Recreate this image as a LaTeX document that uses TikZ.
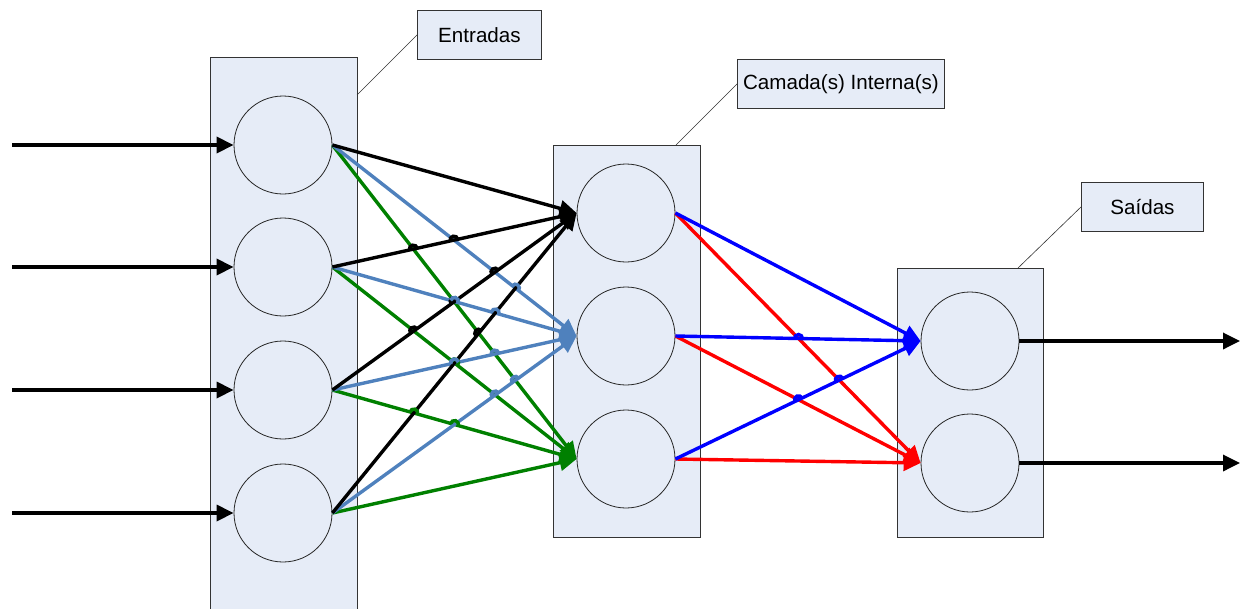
\documentclass[tikz,border=0pt]{standalone}
\usepackage{fontspec}
\setmainfont{Liberation Sans}
\usetikzlibrary{arrows.meta,calc}
\definecolor{layerfill}{RGB}{230,236,247}
\definecolor{steel}{RGB}{79,129,189}
\definecolor{leaf}{RGB}{0,128,0}
% small jump arc where the line #1--#2 passes over the line #3--#4
\newcommand\linehop[5]{%
  \draw[#5,line width=3.4pt] let \p1=(#1), \p2=(#2), \p3=(#3), \p4=(#4),
    \n1={scalar(((\x3-\x1)/100*(\y4-\y3)/100-(\y3-\y1)/100*(\x4-\x3)/100)/((\x2-\x1)/100*(\y4-\y3)/100-(\y2-\y1)/100*(\x4-\x3)/100))},
    \n2={scalar(atan2(\y2-\y1,\x2-\x1))}
    in ($(\p1)!\n1!(\p2)$) ++(\n2+180:4pt) arc[start angle=\n2+180, end angle=\n2, radius=4pt];%
}
\begin{document}
\begin{tikzpicture}[x=1pt,y=-1pt,
  layer/.style={draw=black!80,line width=0.9pt,fill=layerfill,inner sep=0,anchor=north west},
  neuron/.style={circle,draw=black!85,line width=0.8pt,minimum size=98pt,inner sep=0},
  tag/.style={draw=black!80,line width=0.9pt,fill=layerfill,inner sep=0,anchor=north west,
    minimum height=49pt,font=\fontsize{20.6}{24}\selectfont},
  link/.style={line width=3.4pt,-{Triangle[length=17pt,width=16pt]}},
  callout/.style={line width=0.6pt,draw=black!80}]
\useasboundingbox (0,0) rectangle (1246,608);
\begin{scope}
\clip (0,0) rectangle (1246,608);
% layer frames
\node[layer,minimum width=147pt,minimum height=570pt] (L1) at (210,57) {};
\node[layer,minimum width=147pt,minimum height=392pt] (L2) at (553,145) {};
\node[layer,minimum width=146pt,minimum height=269pt] (L3) at (897,268) {};
% captions
\node[tag,minimum width=124pt] (T1) at (417,10) {Entradas};
\node[tag,minimum width=207pt] (T2) at (737,59) {Camada(s) Interna(s)};
\node[tag,minimum width=122pt] (T3) at (1081,182) {Saídas};
\coordinate (c1) at (357,95);
\coordinate (c2) at (676,145);
\coordinate (c3) at (1018,268);
\draw[callout] (c1) -- (T1.west);
\draw[callout] (c2) -- (T2.west);
\draw[callout] (c3) -- (T3.west);
% neurons
\node[neuron] (i1) at (283,145) {};
\node[neuron] (i2) at (283,267) {};
\node[neuron] (i3) at (283,390) {};
\node[neuron] (i4) at (283,513) {};
\node[neuron] (h1) at (626,213) {};
\node[neuron] (h2) at (626,336) {};
\node[neuron] (h3) at (626,459) {};
\node[neuron] (o1) at (970,341) {};
\node[neuron] (o2) at (970,463) {};
% inputs and outputs
\foreach \k/\y in {1/145,2/267,3/390,4/513}{
  \coordinate (in\k) at (12,\y);
  \draw[link] (in\k) -- (i\k.west);
}
\coordinate (out1) at (1240,341);
\coordinate (out2) at (1240,463);
\draw[link] (o1.east) -- (out1);
\draw[link] (o2.east) -- (out2);
% input -> hidden
\foreach \k in {1,2,3,4}{
  \draw[link,leaf] (i\k.east) -- (h3.west);
}
\foreach \k in {1,2,3,4}{
  \draw[link,steel] (i\k.east) -- (h2.west);
}
\foreach \k in {1,2,3,4}{
  \draw[link,black] (i\k.east) -- (h1.west);
}
% hidden -> output
\foreach \k in {1,2,3}{
  \draw[link,red] (h\k.east) -- (o2.west);
}
\foreach \k in {1,2,3}{
  \draw[link,blue] (h\k.east) -- (o1.west);
}
% line jumps: the flatter line hops over the steeper one
\linehop{i2.east}{h1.west}{i1.east}{h2.west}{black}
\linehop{i2.east}{h1.west}{i1.east}{h3.west}{black}
\linehop{i2.east}{h2.west}{i1.east}{h3.west}{steel}
\linehop{i3.east}{h1.west}{i1.east}{h2.west}{black}
\linehop{i3.east}{h1.west}{i1.east}{h3.west}{black}
\linehop{i3.east}{h2.west}{i1.east}{h3.west}{steel}
\linehop{i1.east}{h2.west}{i4.east}{h1.west}{steel}
\linehop{i4.east}{h1.west}{i1.east}{h3.west}{black}
\linehop{i4.east}{h2.west}{i1.east}{h3.west}{steel}
\linehop{i2.east}{h2.west}{i3.east}{h1.west}{steel}
\linehop{i3.east}{h1.west}{i2.east}{h3.west}{black}
\linehop{i3.east}{h2.west}{i2.east}{h3.west}{steel}
\linehop{i2.east}{h2.west}{i4.east}{h1.west}{steel}
\linehop{i2.east}{h3.west}{i4.east}{h1.west}{leaf}
\linehop{i4.east}{h2.west}{i2.east}{h3.west}{steel}
\linehop{i3.east}{h2.west}{i4.east}{h1.west}{steel}
\linehop{i3.east}{h3.west}{i4.east}{h1.west}{leaf}
\linehop{i3.east}{h3.west}{i4.east}{h2.west}{leaf}
\linehop{h2.east}{o1.west}{h1.east}{o2.west}{blue}
\linehop{h3.east}{o1.west}{h1.east}{o2.west}{blue}
\linehop{h3.east}{o1.west}{h2.east}{o2.west}{blue}
\end{scope}
\end{tikzpicture}
\end{document}
